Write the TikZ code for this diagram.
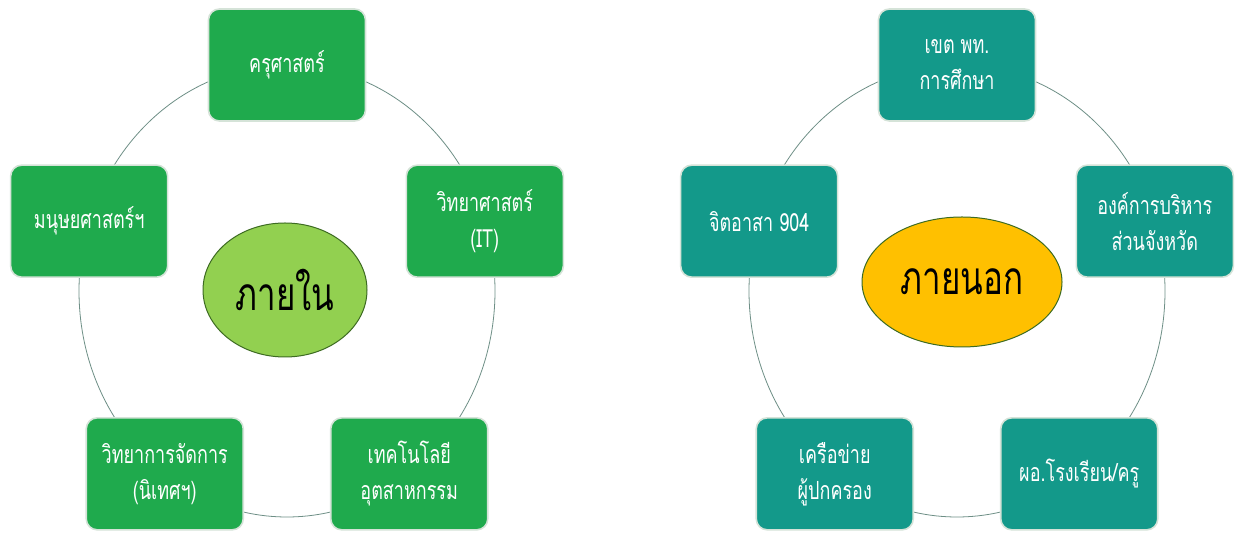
\documentclass[tikz,border=0pt]{standalone}
\usepackage{fontspec}
\newfontfamily\thaifont[Script=Thai,FakeStretch=0.72]{Loma}
\usetikzlibrary{shapes.geometric}
\definecolor{boxgreen}{HTML}{1FAA4D}
\definecolor{boxteal}{HTML}{13998A}
\definecolor{lightgreen}{HTML}{92D050}
\definecolor{gold}{HTML}{FFC000}
\definecolor{ringcol}{HTML}{6E8F86}
\definecolor{edgecol}{HTML}{D5E3D8}
\definecolor{ellborder}{HTML}{3D6B22}
\begin{document}
\begin{tikzpicture}[x=1pt,y=1pt,
  ring/.style={draw=ringcol, line width=0.8pt},
  catbox/.style={rectangle, rounded corners=11pt, minimum width=157pt, minimum height=112pt,
    draw=edgecol, line width=1.6pt, text=white, align=center,
    font=\thaifont\fontsize{25}{36}\selectfont, inner sep=0pt},
  greenbox/.style={catbox, fill=boxgreen},
  tealbox/.style={catbox, fill=boxteal},
  hub/.style={ellipse, draw=ellborder, line width=1pt, inner sep=0pt,
    font=\thaifont\fontsize{46}{50}\selectfont, text=black}]
\useasboundingbox (0,0) rectangle (1241,534);
\fill[white] (0,0) rectangle (1241,534);
\coordinate (cL) at (287,243);
\coordinate (cR) at (957,243);
% rings
\draw[ring] (cL) ellipse [x radius=208pt, y radius=226pt];
\draw[ring] (cR) ellipse [x radius=208pt, y radius=226pt];
% left cycle
\path (cL) ++(90:208pt and 226pt) node[greenbox] (L1) {ครุศาสตร์};
\path (cL) ++(18:208pt and 226pt) node[greenbox] (L2) {วิทยาศาสตร์\\(IT)};
\path (cL) ++(-54:208pt and 226pt) node[greenbox] (L3) {เทคโนโลยี\\อุตสาหกรรม};
\path (cL) ++(-126:208pt and 226pt) node[greenbox] (L4) {วิทยาการจัดการ\\(นิเทศฯ)};
\path (cL) ++(162:208pt and 226pt) node[greenbox] (L5) {มนุษยศาสตร์ฯ};
\node[hub, fill=lightgreen, minimum width=164pt, minimum height=134pt] (hubL) at (285,244) {ภายใน};
% right cycle
\path (cR) ++(90:208pt and 226pt) node[tealbox] (R1) {เขต พท.\\การศึกษา};
\path (cR) ++(18:208pt and 226pt) node[tealbox] (R2) {องค์การบริหาร\\ส่วนจังหวัด};
\path (cR) ++(-54:208pt and 226pt) node[tealbox] (R3) {ผอ.โรงเรียน/ครู};
\path (cR) ++(-126:208pt and 226pt) node[tealbox] (R4) {เครือข่าย\\ผู้ปกครอง};
\path (cR) ++(162:208pt and 226pt) node[tealbox] (R5) {จิตอาสา 904};
\node[hub, fill=gold, minimum width=200pt, minimum height=130pt] (hubR) at (962,252) {ภายนอก};
\end{tikzpicture}
\end{document}
